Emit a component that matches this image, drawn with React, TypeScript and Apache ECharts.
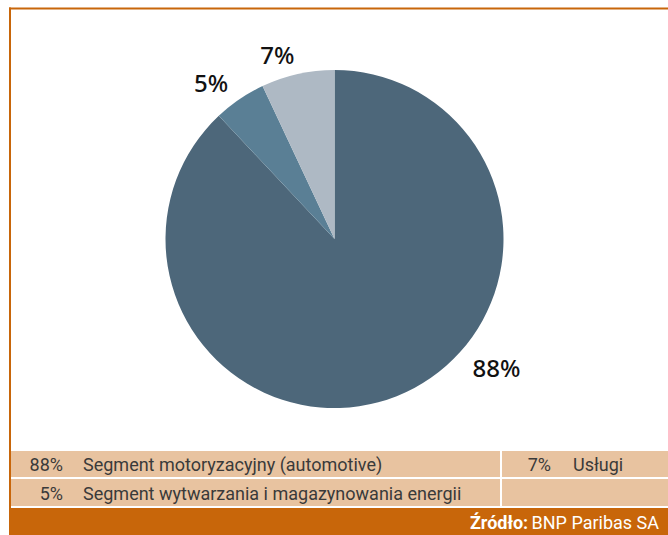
import React, { useEffect, useRef } from "react";
import * as echarts from "echarts";

const categories = [
  "Segment motoryzacyjny (automotive)",
  "Segment wytwarzania i magazynowania energii",
  "Usługi",
];
const values = [88, 5, 7];
const sliceColors = ["#4d677a", "#5a7f95", "#aeb9c4"];
const sourceLabel = "Źródło:";
const sourceText = "BNP Paribas SA";

const W = 668;
const H = 535;
const CX = 334.5;
const CY = 239;
const R = 169;
// label placement (angle clockwise from 12 o'clock, distance from centre)
const labelAngles = [128.5, 321.7, 342.8];
const labelDists = [207, 199, 193];

const ORANGE = "#c8660a";
const PEACH = "#e8c3a0";
const TEXT = "#3a3a3a";
const LFONT = "Roboto, 'Noto Sans', sans-serif";

export default function App() {
  const ref = useRef<HTMLDivElement>(null);
  useEffect(() => {
    if (!ref.current) return;
    const chart = echarts.init(ref.current, null, { renderer: "svg" });
    const legendTexts: any[] = [];
    const rowY = [464.5, 493];
    const cells = [
      { i: 0, row: 0, numX: 63, txtX: 83 },
      { i: 1, row: 1, numX: 63, txtX: 83 },
      { i: 2, row: 0, numX: 551, txtX: 573 },
    ];
    cells.forEach((c) => {
      legendTexts.push({
        type: "text",
        x: c.numX,
        y: rowY[c.row],
        style: {
          text: values[c.i] + "%",
          fill: TEXT,
          font: `18px ${LFONT}`,
          align: "right",
          verticalAlign: "middle",
        },
      });
      legendTexts.push({
        type: "text",
        x: c.txtX,
        y: rowY[c.row],
        style: {
          text: categories[c.i],
          fill: TEXT,
          font: `18px ${LFONT}`,
          align: "left",
          verticalAlign: "middle",
        },
      });
    });

    chart.setOption({
      animation: false,
      backgroundColor: "#ffffff",
      series: [
        {
          type: "pie",
          center: [CX, CY],
          radius: [0, R],
          startAngle: 90,
          clockwise: true,
          silent: true,
          data: values.map((v, i) => ({
            value: v,
            name: categories[i],
            itemStyle: { color: sliceColors[i] },
          })),
          label: {
            show: true,
            position: "outside",
            formatter: "{c}%",
            color: "#111",
            fontSize: 24,
            fontWeight: 500,
            fontFamily: "'Noto Sans', sans-serif",
          },
          labelLine: { show: false },
          labelLayout: (params: any) => {
            const a = (labelAngles[params.dataIndex] * Math.PI) / 180;
            const d = labelDists[params.dataIndex];
            return {
              x: CX + d * Math.sin(a),
              y: CY - d * Math.cos(a),
              align: "center",
              verticalAlign: "middle",
            };
          },
        },
      ],
      graphic: [
        { type: "rect", shape: { x: 9, y: 7.5, width: W - 9, height: 2 }, style: { fill: ORANGE } },
        { type: "rect", shape: { x: 9, y: 7.5, width: 2, height: H - 7.5 }, style: { fill: ORANGE } },
        { type: "rect", shape: { x: 11, y: 451, width: W - 11, height: 26 }, style: { fill: PEACH } },
        { type: "rect", shape: { x: 11, y: 479, width: W - 11, height: 27 }, style: { fill: PEACH } },
        { type: "rect", shape: { x: 500, y: 451, width: 2, height: 55 }, style: { fill: "#ffffff" } },
        { type: "rect", shape: { x: 11, y: 508, width: W - 11, height: H - 508 }, style: { fill: ORANGE } },
        ...legendTexts,
        {
          type: "text",
          x: 659,
          y: 522,
          style: {
            text: `{b|${sourceLabel}} {r|${sourceText}}`,
            align: "right",
            verticalAlign: "middle",
            rich: {
              b: { font: `bold 18px ${LFONT}`, fill: "#ffffff" },
              r: { font: `18px ${LFONT}`, fill: "#ffffff" },
            },
          },
        },
      ],
    });
    return () => chart.dispose();
  }, []);
  return (
    <div style={{ position: "fixed", left: 0, top: 0, width: W, height: H, background: "#fff" }}>
      <div ref={ref} style={{ width: W, height: H }} />
    </div>
  );
}
